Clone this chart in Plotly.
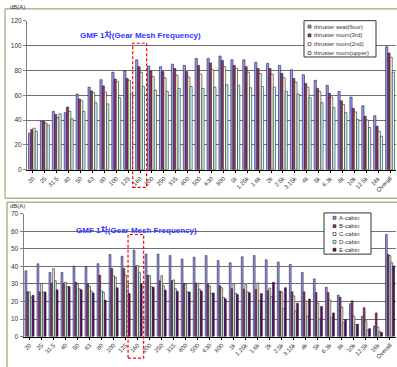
import plotly.graph_objects as go

W, H = 397, 367

categories = ["20", "25", "31.5", "40", "50", "63", "80", "100", "125", "160", "200", "250",
              "315", "400", "500", "630", "800", "1k", "1.25k", "1.6k", "2k", "2.5k", "3.15k",
              "4k", "5k", "6.3k", "8k", "10k", "12.5k", "16k", "Overall"]

top_names = ["thruster seat(floor)", "thruster room(3rd)", "thruster room(2nd)", "thruster room(upper)"]
seat_floor = [29.5, 39, 47, 46, 61, 66.5, 72.5, 78.5, 79.5, 88.5, 83.5, 83, 85, 84, 89.5, 89.5,
              91.5, 88.5, 88.5, 86.5, 85.5, 84, 80.5, 76.5, 72, 68, 63, 58.5, 51.5, 43.5, 99]
room_3rd = [32.5, 39, 44.5, 50.5, 57, 63.5, 67.5, 73, 73.5, 83, 79.5, 79, 81.5, 79, 84, 86,
            88, 84, 83, 81.5, 81.5, 77.5, 73.5, 69.5, 65.5, 61.5, 55.5, 49.5, 43, 35, 94]
room_2nd = [33.5, 37.5, 42, 47, 55.5, 62, 62.5, 71, 72, 78.5, 75, 74, 76, 74.5, 77, 80.5,
            83, 81.5, 78.5, 77.5, 77, 74, 70.5, 66.5, 63, 58.5, 52.5, 46.5, 40, 31, 90.5]
room_upper = [31, 36, 45, 41, 47, 54, 53, 58, 61, 67, 64, 63, 65.5, 67, 65.5, 66.5,
              68.5, 68, 66, 67, 66.5, 63, 61, 58, 54, 50, 46, 40.5, 34, 27, 78.5]

bot_names = ["A-cabin", "B-cabin", "C-cabin", "D-cabin", "E-cabin"]
a_cabin = [37.5, 41.5, 36.5, 36.5, 40.3, 40, 41.6, 46.8, 45.8, 49.3, 47.1, 47.1, 46.2, 44.2, 45.3,
           46.2, 43.4, 42.1, 45.5, 46.2, 43.8, 42.5, 41.2, 36.6, 32.9, 28.2, 23.6, 18.7, 11.6, 6, 58.3]
b_cabin = [25.5, 25.5, 30.5, 30.5, 31, 30, 35, 38.8, 38.8, 40.3, 35, 31.8, 31.9, 30.4, 30.6,
           29.8, 29, 27.3, 27, 26.8, 26.2, 26, 25.5, 25.5, 25.1, 25.1, 22.4, 20.4, 16.4, 13.5, 46.8]
c_cabin = [25.5, 30.3, 38.8, 31, 30, 28.6, 26, 34.7, 35, 40.6, 34.7, 34.7, 32.3, 30, 30.4,
           28.8, 27.8, 30.1, 29.6, 30.6, 27.7, 25.5, 23.2, 20.3, 19, 20.9, 16.8, 11.6, 9, 5.3, 46.2]
d_cabin = [22.5, 25.5, 31.9, 28.5, 27.3, 26, 25.4, 33.8, 31, 36.5, 28.5, 29, 27.3, 25.5, 27,
           24.6, 22.4, 24.7, 25.5, 20.5, 22.8, 16, 14.5, 11.6, 10, 11, 8, 7, 3.7, 2.8, 42.1]
e_cabin = [23.5, 25.4, 26.7, 28.5, 26.7, 24.9, 20.8, 27.8, 24.6, 30, 28.2, 26.5, 25.8, 25.4, 26,
           24.9, 21.6, 24, 25, 24.5, 31, 27.9, 19, 21.4, 17.2, 13.5, 9.7, 7, 4.5, 2.3, 40.3]

colors = ["#9999FF", "#993366", "#FFFFCC", "#CCFFFF", "#660066"]
top_series = [seat_floor, room_3rd, room_2nd, room_upper]
bot_series = [a_cabin, b_cabin, c_cabin, d_cabin, e_cabin]

def px(x):
    return x / W

def py(y):
    return 1 - y / H

fig = go.Figure()
for name, vals, col in zip(top_names, top_series, colors):
    fig.add_trace(go.Bar(x=categories, y=vals, name=name, xaxis="x", yaxis="y",
                         marker=dict(color=col, line=dict(color="#222233", width=0.6))))
for name, vals, col in zip(bot_names, bot_series, colors):
    fig.add_trace(go.Bar(x=categories, y=vals, name=name, xaxis="x2", yaxis="y2",
                         marker=dict(color=col, line=dict(color="#222233", width=0.6))))

FONT = "Liberation Sans, Noto Sans CJK KR, sans-serif"
xcommon = dict(type="category", categoryorder="array", categoryarray=categories,
               range=[-0.5, len(categories) - 0.5], tickangle=-45,
               tickfont=dict(size=6, family=FONT, color="#333"),
               showline=True, linecolor="#000", linewidth=1, showgrid=False,
               ticks="outside", ticklen=2, tickcolor="#000", zeroline=False)
ycommon = dict(showgrid=True, gridcolor="#707070", gridwidth=1,
               showline=True, linecolor="#808080", linewidth=1,
               tickfont=dict(size=6.5, family=FONT, color="#333"),
               ticks="outside", ticklen=3, tickcolor="#808080", zeroline=False)

fig.update_layout(
    width=W, height=H, margin=dict(l=0, r=0, t=0, b=0),
    paper_bgcolor="white", plot_bgcolor="white",
    barmode="group", bargap=0.25, bargroupgap=0, showlegend=False,
    xaxis=dict(domain=[px(27), px(396)], anchor="y", **xcommon),
    yaxis=dict(domain=[py(169), py(17)], range=[0, 120], dtick=20, anchor="x", **ycommon),
    xaxis2=dict(domain=[px(23.5), px(396)], anchor="y2", **xcommon),
    yaxis2=dict(domain=[py(339), py(214)], range=[0, 70], dtick=10, anchor="x2", **ycommon),
)

shapes = []
annotations = []
# chart frames
shapes.append(dict(type="rect", xref="paper", yref="paper", x0=px(5), x1=1.05, y0=py(198), y1=py(5),
                   line=dict(color="#8f8f5a", width=1), layer="below"))
shapes.append(dict(type="rect", xref="paper", yref="paper", x0=px(7), x1=1.05, y0=-0.05, y1=py(202),
                   line=dict(color="#8f8f5a", width=1), layer="below"))

# dB(A) labels
for yy in (3.5, 206):
    annotations.append(dict(text="dB(A)", xref="paper", yref="paper", x=px(8), y=py(yy),
                            xanchor="left", yanchor="middle", showarrow=False,
                            font=dict(size=6, family=FONT, color="#333")))

# GMF labels
annotations.append(dict(text="<b>GMF 1차(Gear Mesh Frequency)</b>", xref="paper", yref="paper",
                        x=px(140), y=py(32), xanchor="center", yanchor="middle", showarrow=False,
                        font=dict(size=8, family=FONT, color="#3333FF")))
annotations.append(dict(text="<b>GMF 1차(Gear Mesh Frequency)</b>", xref="paper", yref="paper",
                        x=px(136), y=py(230), xanchor="center", yanchor="middle", showarrow=False,
                        font=dict(size=8, family=FONT, color="#3333FF")))

# red dashed GMF boxes
shapes.append(dict(type="rect", xref="x", yref="paper", x0=8.38, x1=9.55, y0=py(187), y1=py(40),
                   line=dict(color="#FF0000", width=1.2, dash="3px,2px")))
shapes.append(dict(type="rect", xref="x2", yref="paper", x0=8.2, x1=9.5, y0=py(361), y1=py(235),
                   line=dict(color="#FF0000", width=1.2, dash="3px,2px")))

# custom legends
def legend(names, box, ys, sq_x, tx_x):
    x0, y0, x1, y1 = box
    shapes.append(dict(type="rect", xref="paper", yref="paper", x0=px(x0), x1=px(x1),
                       y0=py(y1), y1=py(y0), line=dict(color="#333", width=1), fillcolor="white"))
    for name, col, yy in zip(names, colors, ys):
        shapes.append(dict(type="rect", xref="paper", yref="paper", x0=px(sq_x), x1=px(sq_x + 3),
                           y0=py(yy + 1.5), y1=py(yy - 1.5), line=dict(color="#222", width=0.6),
                           fillcolor=col))
        annotations.append(dict(text=name, xref="paper", yref="paper", x=px(tx_x), y=py(yy),
                                xanchor="left", yanchor="middle", showarrow=False,
                                font=dict(size=6, family=FONT, color="#333")))

legend(top_names, (304, 17, 376, 54), [23, 32, 41, 50], 308, 312)
legend(bot_names, (324, 213, 371, 255), [218, 226.5, 234.5, 242.5, 250.5], 333, 337)

fig.update_layout(shapes=shapes, annotations=annotations)
fig.write_html("out.html", config={"displayModeBar": False},
               post_script="document.body.style.margin='0';document.body.style.overflow='hidden';")
